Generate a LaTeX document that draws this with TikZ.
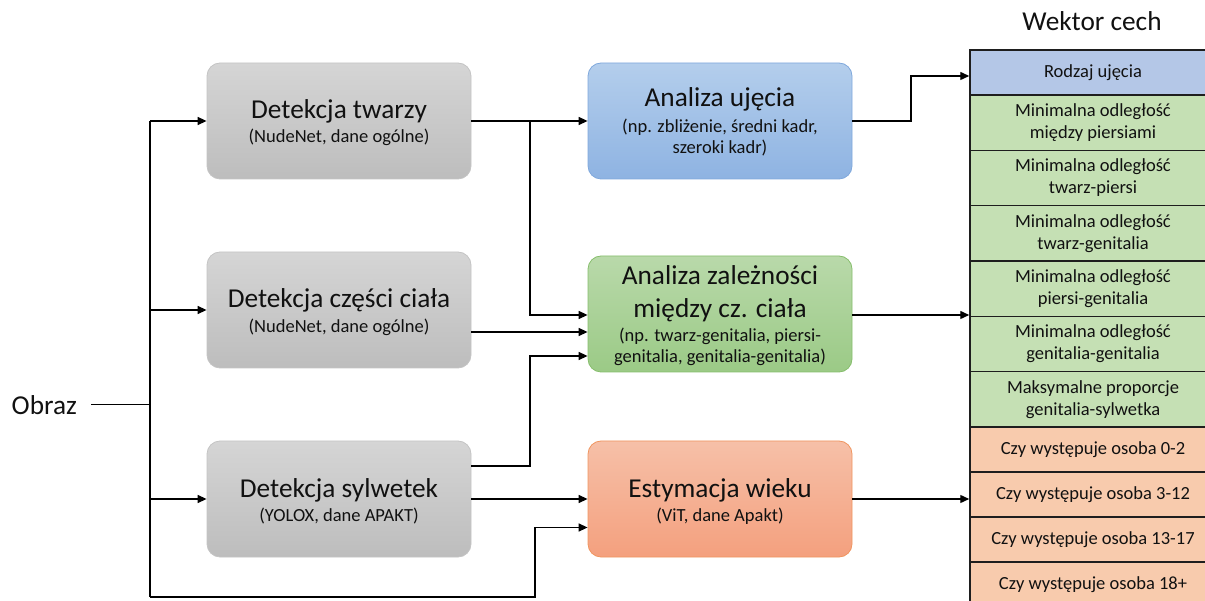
\documentclass[tikz,border=0pt]{standalone}
\usepackage{fontspec}
\setmainfont{Carlito}
\usetikzlibrary{arrows.meta,calc}
\definecolor{txt}{HTML}{111111}
\definecolor{grayT}{HTML}{D5D5D5}
\definecolor{grayB}{HTML}{BDBDBD}
\definecolor{grayE}{HTML}{C4C4C4}
\definecolor{blueT}{HTML}{B4CEEC}
\definecolor{blueB}{HTML}{8EB3E2}
\definecolor{blueE}{HTML}{7FA8DC}
\definecolor{greenT}{HTML}{B9D9AA}
\definecolor{greenB}{HTML}{9BCA86}
\definecolor{greenE}{HTML}{86BE6C}
\definecolor{orT}{HTML}{F6C0A8}
\definecolor{orB}{HTML}{F4A07E}
\definecolor{orE}{HTML}{F0955F}
\definecolor{cBlue}{HTML}{B4C7E7}
\definecolor{cGreen}{HTML}{C5E0B4}
\definecolor{cOr}{HTML}{F8CBAD}
\definecolor{cellE}{HTML}{1E1E1E}
\newcommand\titlef{\fontsize{27.3}{33}\selectfont}
\newcommand\subf{\fontsize{18.5}{22}\selectfont}
\begin{document}
\begin{tikzpicture}[x=1pt,y=-1pt,
  box/.style={rounded corners=13pt, minimum width=264pt, minimum height=116pt,
    inner sep=0pt, line width=0.8pt},
  graybox/.style={box, draw=grayE, top color=grayT, bottom color=grayB},
  bluebox/.style={box, draw=blueE, top color=blueT, bottom color=blueB},
  greenbox/.style={box, draw=greenE, top color=greenT, bottom color=greenB},
  orbox/.style={box, draw=orE, top color=orT, bottom color=orB},
  tt/.style={anchor=base, inner sep=0pt, font=\titlef, text=txt},
  st/.style={anchor=base, inner sep=0pt, font=\subf, text=txt},
  cell/.style={draw=cellE, line width=1.5pt, minimum width=246pt, inner sep=0pt,
    align=center, font=\subf, text=txt},
  cellA/.style={cell, fill=cBlue, minimum height=45pt},
  cellB/.style={cell, fill=cGreen, minimum height=55.33pt},
  cellC/.style={cell, fill=cOr, minimum height=45pt},
  ln/.style={line width=1.4pt, draw=black},
  arr/.style={ln, -{Triangle[length=9pt,width=8pt]}}]
\useasboundingbox (0,0) rectangle (1205,601);

% left column
\node[graybox] (d1) at (339,121) {};
\node[graybox] (d2) at (339,310) {};
\node[graybox] (d3) at (339,499) {};
\node[tt] (d1a) at ($(d1)+(0,-2)$) {Detekcja twarzy};
\node[st] (d1b) at ($(d1)+(0,22)$) {(NudeNet, dane ogólne)};
\node[tt] (d2a) at ($(d2)+(0,-2)$) {Detekcja części ciała};
\node[st] (d2b) at ($(d2)+(0,23)$) {(NudeNet, dane ogólne)};
\node[tt] (d3a) at ($(d3)+(0,-2)$) {Detekcja sylwetek};
\node[st] (d3b) at ($(d3)+(0,22)$) {(YOLOX, dane APAKT)};

% middle column
\node[bluebox] (b) at (720,121) {};
\node[greenbox] (g) at (720,314) {};
\node[orbox] (o) at (720,499) {};
\node[tt] (ba) at ($(b)+(0,-14)$) {Analiza ujęcia};
\node[st] (bb) at ($(b)+(0,12)$) {(np. zbliżenie, średni kadr,};
\node[st] (bc) at ($(b)+(0,33)$) {szeroki kadr)};
\node[tt] (ga) at ($(g)+(0,-29)$) {Analiza zależności};
\node[tt] (gb) at ($(g)+(0,4)$) {między cz. ciała};
\node[st] (gc) at ($(g)+(0,28)$) {(np. twarz-genitalia, piersi-};
\node[st] (gd) at ($(g)+(0,49)$) {genitalia, genitalia-genitalia)};
\node[tt] (oa) at ($(o)+(0,-2)$) {Estymacja wieku};
\node[st] (ob) at ($(o)+(0,22)$) {(ViT, dane Apakt)};

% table
\node[tt] (wc) at (1092,31) {Wektor cech};
\node[cellA] (r1) at (1093,72.5) {Rodzaj ujęcia};
\node[cellB] (r2) at (1093,122.67) {Minimalna odległość\\między piersiami};
\node[cellB] (r3) at (1093,178) {Minimalna odległość\\twarz-piersi};
\node[cellB] (r4) at (1093,233.33) {Minimalna odległość\\twarz-genitalia};
\node[cellB] (r5) at (1093,288.67) {Minimalna odległość\\piersi-genitalia};
\node[cellB] (r6) at (1093,344) {Minimalna odległość\\genitalia-genitalia};
\node[cellB] (r7) at (1093,399.33) {Maksymalne proporcje\\genitalia-sylwetka};
\node[cellC] (r8) at (1093,449.5) {Czy występuje osoba 0-2};
\node[cellC] (r9) at (1093,494.5) {Czy występuje osoba 3-12};
\node[cellC] (r10) at (1093,539.5) {Czy występuje osoba 13-17};
\node[cellC] (r11) at (1093,584.5) {Czy występuje osoba 18+};

% input
\node[tt, anchor=base west] (obraz) at (11.5,414) {Obraz};
\coordinate (tTop) at (150,121);
\coordinate (tBot) at (150,597);
\coordinate (jB) at (535,597);
\coordinate (j1) at (530,121);
\coordinate (j3) at (530,466);
\coordinate (j4) at (911,121);

\draw[ln] ($(obraz.east)+(14,0)$) -- (obraz.east -| tTop);
\draw[ln] (tTop) -- (tBot);
\draw[arr] (tTop) -- (d1.west);
\draw[arr] (d2.west -| tTop) -- (d2.west);
\draw[arr] (d3.west -| tTop) -- (d3.west);
\draw[arr] (tBot) -- (jB) |- ([yshift=-28.5pt]o.west);

\draw[arr] (d1.east) -- (b.west);
\draw[arr] (j1) |- ([yshift=-1pt]g.west);
\draw[arr] ([yshift=-22pt]d2.east) -- ([yshift=-22pt]d2.east -| g.west);
\draw[arr] ([yshift=33pt]d3.east) -- (j3) |- ([yshift=-42pt]g.west);
\draw[arr] (d3.east) -- (o.west);

\draw[arr] (b.east) -- (j4) |- ([yshift=-3.5pt]r1.west);
\draw[arr] ([yshift=-1pt]g.east) -- ([yshift=-1pt]g.east -| r5.west);
\draw[arr] (o.east) -- (o.east -| r9.west);
\end{tikzpicture}
\end{document}
